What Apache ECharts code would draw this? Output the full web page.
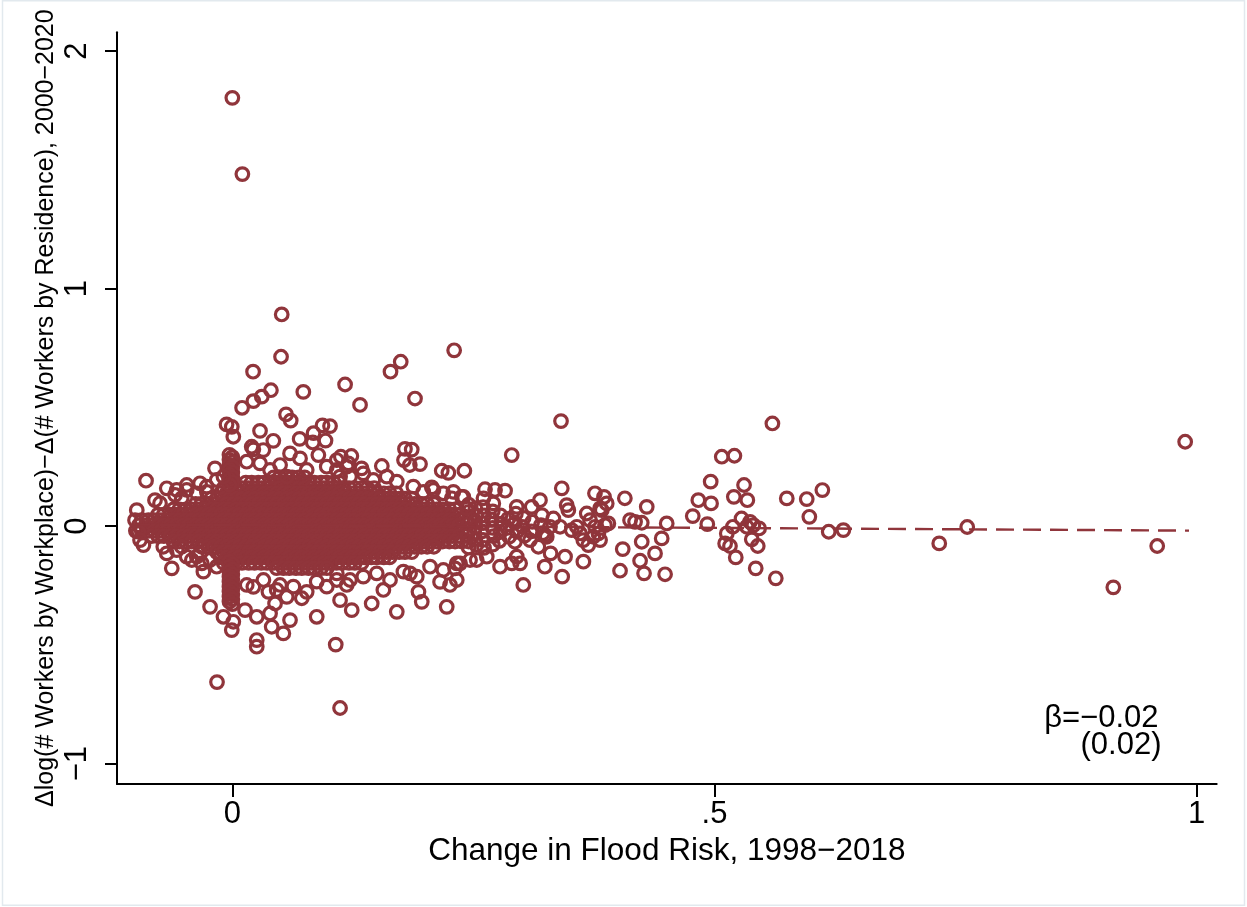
<!DOCTYPE html>
<html>
<head>
<meta charset="utf-8">
<script src="https://cdn.jsdelivr.net/npm/echarts@6/dist/echarts.min.js"></script>
<style>
html,body{margin:0;padding:0;background:#fff;}
#chart{width:1247px;height:907px;}
</style>
</head>
<body>
<div id="chart"></div>
<script>
// ---- axis ticks and labels ----
const xTickValues = [0, 0.5, 1];
const xTickLabels = ['0', '.5', '1'];
const yTickValues = [-1, 0, 1, 2];
const yTickLabels = ['\u22121', '0', '1', '2'];
const xRange = [-0.1196, 1.0207];
const yRange = [-1.086, 2.079];
const xTitle = 'Change in Flood Risk, 1998\u22122018';
const yTitle = '\u0394log(# Workers by Workplace)\u2212\u0394(# Workers by Residence), 2000\u22122020';
const betaText = '\u03b2=\u22120.02';
const seText = '(0.02)';

// ---- dense core of the scatter (rows of overlapping points) ----
const coreRowY = [0.205, 0.183, 0.160, 0.138, 0.115, 0.093, 0.070, 0.048, 0.025, 0.003, -0.020, -0.042, -0.065, -0.087, -0.110, -0.132, -0.155, -0.177];
const coreRowX = [
 [0.043,0.049,0.056,0.062,0.069,0.075],
 [0.014,0.020,0.027,0.033,0.040,0.046,0.053,0.059,0.066,0.072,0.079,0.085,0.092,0.098,0.105,0.111],
 [-0.009,-0.003,0.004,0.010,0.017,0.023,0.030,0.036,0.043,0.049,0.056,0.062,0.069,0.075,0.082,0.088,0.095,0.101,0.108,0.114,0.121,0.127,0.134,0.140,0.147],
 [-0.012,-0.006,0.001,0.007,0.014,0.020,0.027,0.033,0.040,0.046,0.053,0.059,0.066,0.072,0.079,0.085,0.092,0.098,0.105,0.111,0.118,0.124,0.131,0.137,0.144,0.150,0.157,0.163,0.170],
 [-0.022,-0.016,-0.009,-0.003,0.004,0.010,0.017,0.023,0.030,0.036,0.043,0.049,0.056,0.062,0.069,0.075,0.082,0.088,0.095,0.101,0.108,0.114,0.121,0.127,0.134,0.140,0.147,0.153,0.160,0.166,0.173,0.179,0.186],
 [-0.038,-0.032,-0.025,-0.019,-0.012,-0.006,0.001,0.007,0.014,0.020,0.027,0.033,0.040,0.046,0.053,0.059,0.066,0.072,0.079,0.085,0.092,0.098,0.105,0.111,0.118,0.124,0.131,0.137,0.144,0.150,0.157,0.163,0.170,0.176,0.183,0.189,0.196,0.202,0.209],
 [-0.061,-0.055,-0.048,-0.042,-0.035,-0.029,-0.022,-0.016,-0.009,-0.003,0.004,0.010,0.017,0.023,0.030,0.036,0.043,0.049,0.056,0.062,0.069,0.075,0.082,0.088,0.095,0.101,0.108,0.114,0.121,0.127,0.134,0.140,0.147,0.153,0.160,0.166,0.173,0.179,0.186,0.192,0.199,0.205,0.212,0.218,0.225,0.231],
 [-0.077,-0.071,-0.064,-0.058,-0.051,-0.045,-0.038,-0.032,-0.025,-0.019,-0.012,-0.006,0.001,0.007,0.014,0.020,0.027,0.033,0.040,0.046,0.053,0.059,0.066,0.072,0.079,0.085,0.092,0.098,0.105,0.111,0.118,0.124,0.131,0.137,0.144,0.150,0.157,0.163,0.170,0.176,0.183,0.189,0.196,0.202,0.209,0.215,0.222,0.228,0.235],
 [-0.094,-0.087,-0.081,-0.074,-0.068,-0.061,-0.055,-0.048,-0.042,-0.035,-0.029,-0.022,-0.016,-0.009,-0.003,0.004,0.010,0.017,0.023,0.030,0.036,0.043,0.049,0.056,0.062,0.069,0.075,0.082,0.088,0.095,0.101,0.108,0.114,0.121,0.127,0.134,0.140,0.147,0.153,0.160,0.166,0.173,0.179,0.186,0.192,0.199,0.205,0.212,0.218,0.225,0.231,0.238],
 [-0.097,-0.090,-0.084,-0.077,-0.071,-0.064,-0.058,-0.051,-0.045,-0.038,-0.032,-0.025,-0.019,-0.012,-0.006,0.001,0.007,0.014,0.020,0.027,0.033,0.040,0.046,0.053,0.059,0.066,0.072,0.079,0.085,0.092,0.098,0.105,0.111,0.118,0.124,0.131,0.137,0.144,0.150,0.157,0.163,0.170,0.176,0.183,0.189,0.196,0.202,0.209,0.215,0.222,0.228,0.235],
 [-0.100,-0.094,-0.087,-0.081,-0.074,-0.068,-0.061,-0.055,-0.048,-0.042,-0.035,-0.029,-0.022,-0.016,-0.009,-0.003,0.004,0.010,0.017,0.023,0.030,0.036,0.043,0.049,0.056,0.062,0.069,0.075,0.082,0.088,0.095,0.101,0.108,0.114,0.121,0.127,0.134,0.140,0.147,0.153,0.160,0.166,0.173,0.179,0.186,0.192,0.199,0.205,0.212,0.218,0.225,0.231,0.238],
 [-0.084,-0.077,-0.071,-0.064,-0.058,-0.051,-0.045,-0.038,-0.032,-0.025,-0.019,-0.012,-0.006,0.001,0.007,0.014,0.020,0.027,0.033,0.040,0.046,0.053,0.059,0.066,0.072,0.079,0.085,0.092,0.098,0.105,0.111,0.118,0.124,0.131,0.137,0.144,0.150,0.157,0.163,0.170,0.176,0.183,0.189,0.196,0.202,0.209,0.215,0.222,0.228,0.235],
 [-0.061,-0.055,-0.048,-0.042,-0.035,-0.029,-0.022,-0.016,-0.009,-0.003,0.004,0.010,0.017,0.023,0.030,0.036,0.043,0.049,0.056,0.062,0.069,0.075,0.082,0.088,0.095,0.101,0.108,0.114,0.121,0.127,0.134,0.140,0.147,0.153,0.160,0.166,0.173,0.179,0.186,0.192,0.199,0.205,0.212,0.218,0.225,0.231,0.238],
 [-0.032,-0.025,-0.019,-0.012,-0.006,0.001,0.007,0.014,0.020,0.027,0.033,0.040,0.046,0.053,0.059,0.066,0.072,0.079,0.085,0.092,0.098,0.105,0.111,0.118,0.124,0.131,0.137,0.144,0.150,0.157,0.163,0.170,0.176,0.183,0.189,0.196,0.202,0.209],
 [-0.016,-0.009,-0.003,0.004,0.010,0.017,0.023,0.030,0.036,0.043,0.049,0.056,0.062,0.069,0.075,0.082,0.088,0.095,0.101,0.108,0.114,0.121,0.127,0.134,0.140,0.147,0.153,0.160,0.166,0.173,0.179,0.186],
 [-0.012,-0.006,0.001,0.007,0.014,0.020,0.027,0.033,0.040,0.046,0.053,0.059,0.066,0.072,0.079,0.085,0.092,0.098,0.105,0.111,0.118,0.124,0.131,0.137,0.144,0.150,0.157,0.163],
 [-0.009,-0.003,0.004,0.010,0.017,0.023,0.030,0.036,0.043,0.049,0.056,0.062,0.069,0.075,0.082,0.088,0.095,0.101,0.108,0.114,0.121,0.127,0.134],
 [0.046,0.053,0.059,0.066,0.072,0.079,0.085,0.092,0.098]
];

// ---- vertical spike of points at zero flood-risk change ----
const spikePoints = [
 [-0.003,0.300],[0.000,0.290],[-0.003,0.279],[0.000,0.269],[-0.003,0.258],[0.000,0.248],[-0.003,0.237],
 [0.000,0.227],[-0.003,0.216],[0.000,0.206],[-0.003,0.195],[0.000,0.185],[-0.003,0.174],
 [-0.003,-0.150],[0.000,-0.161],[-0.003,-0.171],[0.000,-0.182],[-0.003,-0.192],[0.000,-0.203],
 [-0.003,-0.213],[0.000,-0.224],[-0.003,-0.234],[0.000,-0.245],[-0.003,-0.255],[0.000,-0.266],
 [-0.003,-0.276],[0.000,-0.287],[-0.003,-0.297],[0.000,-0.308],[-0.003,-0.318],[0.000,-0.329]
];

// ---- tapering tail of the cloud ----
const tailPoints = [
 [0.245,0.090],[0.245,0.060],[0.246,0.035],[0.245,0.010],[0.245,-0.015],[0.244,-0.040],[0.245,-0.065],[0.245,-0.090],
 [0.252,0.075],[0.253,0.045],[0.252,0.020],[0.252,-0.005],[0.251,-0.030],[0.252,-0.055],[0.253,-0.080],
 [0.260,0.080],[0.261,0.045],[0.260,0.012],[0.259,-0.022],[0.260,-0.058],[0.261,-0.092],
 [0.270,0.062],[0.269,0.028],[0.270,-0.008],[0.271,-0.042],[0.270,-0.078],
 [0.278,0.045],[0.279,0.010],[0.278,-0.025],[0.277,-0.062],
 [0.286,0.030],[0.285,-0.008],[0.287,-0.045],
 [0.294,0.052],[0.293,0.014],[0.295,-0.024],[0.293,-0.066],
 [0.302,0.034],[0.301,-0.004],[0.303,-0.040],
 [0.311,0.018],[0.310,-0.022],
 [0.321,0.046],[0.320,0.004],[0.322,-0.030]
];

// ---- circles scattered along the edge of the cloud ----
const edgePoints = [
 [0.0149,0.271],[0.0287,0.264],[0.0391,0.236],[0.0495,0.257],[0.0564,0.208],[0.0771,0.236],[0.0979,0.250],
 [0.1083,0.278],[0.1186,0.250],[0.1117,0.208],[0.1083,0.236],[0.1220,0.208],[0.1358,0.222],[0.1462,0.194],
 [0.1601,0.208],[0.1705,0.187],[0.1877,0.166],[0.2085,0.152],[0.2188,0.138],[0.2292,0.144],[0.2395,0.123],
 [-0.0577,0.152],[-0.0473,0.173],[-0.0369,0.138],[-0.0265,0.166],[-0.0162,0.194],
 [0.0149,-0.248],[0.0322,-0.227],[0.0875,-0.234],[0.0979,-0.255],[0.1083,-0.227],[0.1186,-0.248],
 [0.0495,-0.248],[0.0633,-0.255],[0.1083,-0.199],[0.1220,-0.227],[0.1358,-0.213],[0.1497,-0.199],
 [0.1635,-0.227],[0.1774,-0.192],[0.2050,-0.171],[0.2188,-0.185],[0.2327,-0.157],[0.2465,-0.143],
 [-0.0716,-0.087],[-0.0577,-0.101],[-0.0473,-0.129],[-0.0335,-0.115],[-0.0231,-0.143],[-0.0162,-0.171]
];

// ---- individual points read around the cloud ----
const upperPoints = [
 [0.000,1.803],[0.0104,1.482],[0.0512,0.891],[0.0505,0.713],[0.0215,0.650],[0.040,0.572],[0.0305,0.545],
 [0.0218,0.526],[0.0736,0.565],[0.1169,0.596],[0.1324,0.510],[0.164,0.650],[0.1746,0.692],[0.230,0.740],
 [0.1894,0.537],[0.0101,0.498],[-0.006,0.428],[-0.0006,0.418],[0.001,0.376],[0.0287,0.401],[0.0425,0.359],
 [0.0557,0.470],[0.0605,0.444],[0.0698,0.367],[0.0834,0.352],[0.0842,0.391],[0.0935,0.424],[0.1013,0.421],
 [0.0966,0.360],[0.1125,0.292],[0.1234,0.295],[0.179,0.325],[0.186,0.322],[0.178,0.278],[0.184,0.257],
 [0.1946,0.261],[0.1203,0.264],[0.155,0.253],[0.134,0.243],[0.2171,0.233],[0.224,0.224],[0.2406,0.233],
 [0.2068,0.163],[0.198,0.144],[0.262,0.155],[0.2724,0.152],[0.2828,0.149],[0.2604,0.117],[0.2706,0.0955],
 [0.2949,0.081],[0.3104,0.081],[0.319,0.109],[0.2275,0.117],[0.2379,0.123],[0.243,0.0745],[0.2897,0.299],
 [0.0218,0.323],[0.0321,0.320],[0.0598,0.306],[0.0702,0.285],[0.0892,0.299],[0.0201,0.334]
];
const leftPoints = [
 [-0.0991,0.067],[-0.1009,0.025],[-0.0974,-0.024],[-0.0957,-0.059],[-0.0922,-0.080],[-0.0895,0.191],
 [-0.068,0.159],[-0.0594,0.131],[-0.0525,0.117],[-0.0802,0.109],[-0.075,0.096],[-0.0335,0.180],
 [-0.018,0.243],[-0.0092,0.208],[-0.0473,0.152],[-0.0265,0.144],[-0.0525,-0.087],[-0.042,-0.143]
];
const lowerPoints = [
 [-0.068,-0.115],[-0.0628,-0.178],[-0.0387,-0.277],[-0.0231,-0.340],[-0.030,-0.192],[-0.0369,-0.129],
 [-0.0317,-0.157],[-0.0092,-0.382],[0.001,-0.403],[-0.0006,-0.438],[0.0132,-0.354],[0.0253,-0.382],
 [0.0391,-0.368],[0.0443,-0.326],[0.0253,-0.480],[0.0253,-0.508],[0.0529,-0.452],[0.0598,-0.396],
 [0.0408,-0.424],[0.0875,-0.382],[0.1072,-0.499],[0.0218,-0.256],[0.0374,-0.277],[0.046,-0.269],
 [0.0564,-0.298],[0.072,-0.304],[0.0771,-0.277],[-0.0159,-0.657],[0.1117,-0.766],
 [0.3017,-0.248],[0.2223,-0.340],[0.1705,-0.361],[0.1238,-0.354],[0.1445,-0.326],[0.1964,-0.319],
 [0.193,-0.277],[0.2154,-0.235],[0.2257,-0.248],[0.2327,-0.227],[0.1843,-0.199],[0.1912,-0.213],
 [0.1566,-0.269],[0.1117,-0.312],[0.2776,-0.171],[0.2897,-0.157],[0.2534,-0.143],[0.2638,-0.129],
 [0.2361,-0.157],[0.2309,-0.178],[0.3087,-0.059],[0.3173,-0.087],[0.2949,-0.129],[0.2984,-0.157]
];
const rightPoints = [
 [0.3408,0.442],[0.560,0.432],[0.3416,0.159],[0.3467,0.088],[0.3484,0.067],[0.376,0.138],[0.3854,0.123],
 [0.407,0.117],[0.4297,0.081],[0.4124,0.025],[0.4176,0.018],[0.4245,0.014],[0.4504,0.011],[0.4452,-0.052],
 [0.4383,-0.115],[0.4245,-0.066],[0.4228,-0.146],[0.4048,-0.097],[0.402,-0.188],[0.4269,-0.199],
 [0.4487,-0.203],[0.3420,-0.213],[0.364,-0.150],[0.3240,-0.171],[0.345,-0.129],[0.3300,-0.115],
 [0.326,-0.045],[0.3572,-0.003],[0.3675,0.053],[0.3709,0.025],[0.3761,-0.003],[0.3796,-0.031],
 [0.3831,0.067],[0.3639,-0.059],[0.3691,-0.080],[0.3743,-0.045],[0.3864,0.004],[0.3605,-0.031],
 [0.3519,-0.017],[0.3899,0.011],[0.3813,-0.059],[0.3294,-0.003],[0.3329,0.032],[0.3242,-0.038],
 [0.3882,0.0955],[0.3813,0.0745],[0.3398,-0.003],
 [0.5075,0.292],[0.5206,0.296],[0.496,0.187],[0.5306,0.173],[0.520,0.123],[0.534,0.109],[0.4832,0.109],
 [0.4964,0.0955],[0.4774,0.042],[0.4925,0.008],[0.5749,0.1166],[0.5956,0.1137],[0.6118,0.1516],
 [0.5983,0.039],[0.6184,-0.024],[0.6336,-0.017],[0.528,0.032],[0.5368,0.018],[0.5403,0.004],
 [0.5462,-0.010],[0.519,-0.003],[0.5127,-0.031],[0.511,-0.073],[0.516,-0.084],[0.522,-0.132],
 [0.5386,-0.056],[0.5448,-0.084],[0.5427,-0.178],[0.5635,-0.220],[0.5334,-0.003],
 [0.988,0.355],[0.733,-0.073],[0.762,-0.004],[0.9135,-0.258],[0.959,-0.084]
];

// ---- fitted line (end points) ----
const fitX = [-0.104, 0.992];
const fitY = [0.0064, -0.0191];

// ---- build series data ----
const scatterData = [];
coreRowY.forEach(function (y, i) {
  coreRowX[i].forEach(function (x) { scatterData.push([x, y]); });
});
[spikePoints, tailPoints, edgePoints, upperPoints, leftPoints, lowerPoints, rightPoints].forEach(function (arr) {
  arr.forEach(function (p) { scatterData.push(p); });
});
const fitData = fitX.map(function (x, i) { return [x, fitY[i]]; });

const mark = '#90353B';
const FONT = '"Liberation Sans", Arial, Helvetica, sans-serif';

const chart = echarts.init(document.getElementById('chart'), null, { renderer: 'canvas' });
chart.setOption({
  animation: false,
  backgroundColor: '#ffffff',
  grid: { left: 117, right: 30.3, top: 32.3, bottom: 123, containLabel: false, outerBoundsMode: 'none' },
  xAxis: {
    type: 'value', min: xRange[0], max: xRange[1],
    name: xTitle, nameLocation: 'middle', nameGap: 51, nameMoveOverlap: false,
    nameTextStyle: { fontSize: 31.5, color: '#000', fontFamily: FONT },
    axisLine: { show: true, onZero: false, lineStyle: { color: '#000', width: 2 } },
    axisTick: { show: true, length: 13, lineStyle: { color: '#000', width: 2 }, customValues: xTickValues },
    axisLabel: { show: true, margin: 15, fontSize: 31, color: '#000', fontFamily: FONT,
      customValues: xTickValues,
      formatter: function (v) { const k = xTickValues.indexOf(v); return k >= 0 ? xTickLabels[k] : ''; } },
    splitLine: { show: false }
  },
  yAxis: {
    type: 'value', min: yRange[0], max: yRange[1],
    name: yTitle, nameLocation: 'middle', nameGap: 58, nameRotate: 90, nameMoveOverlap: false,
    nameTextStyle: { fontSize: 25, color: '#000', fontFamily: FONT },
    axisLine: { show: true, onZero: false, lineStyle: { color: '#000', width: 2 } },
    axisTick: { show: true, length: 12, lineStyle: { color: '#000', width: 2 }, customValues: yTickValues },
    axisLabel: { show: true, rotate: 90, margin: 24, fontSize: 31, color: '#000', fontFamily: FONT,
      customValues: yTickValues,
      formatter: function (v) { const k = yTickValues.indexOf(v); return k >= 0 ? yTickLabels[k] : ''; } },
    splitLine: { show: false }
  },
  series: [
    {
      type: 'scatter', data: scatterData, symbol: 'circle', symbolSize: 12.6, silent: true, z: 2,
      large: false, progressive: 0,
      itemStyle: { color: 'rgba(0,0,0,0)', borderColor: mark, borderWidth: 3.2, opacity: 1 }
    },
    {
      type: 'line', data: fitData, symbol: 'none', silent: true, z: 3,
      lineStyle: { color: mark, width: 2.4, type: [18, 9] }
    }
  ],
  graphic: [
    { type: 'rect', silent: true, z: -10,
      shape: { x: 2.5, y: 0.75, width: 1242, height: 904.5 },
      style: { fill: 'none', stroke: '#e2e9ee', lineWidth: 1.5 } },
    { type: 'text', silent: true, z: 10, x: 1158.5, y: 718,
      style: { text: betaText, font: '31px ' + FONT, fill: '#000', textAlign: 'right', textVerticalAlign: 'middle', align: 'right', verticalAlign: 'middle' } },
    { type: 'text', silent: true, z: 10, x: 1161.5, y: 745,
      style: { text: seText, font: '31px ' + FONT, fill: '#000', textAlign: 'right', textVerticalAlign: 'middle', align: 'right', verticalAlign: 'middle' } }
  ]
});
</script>
</body>
</html>
